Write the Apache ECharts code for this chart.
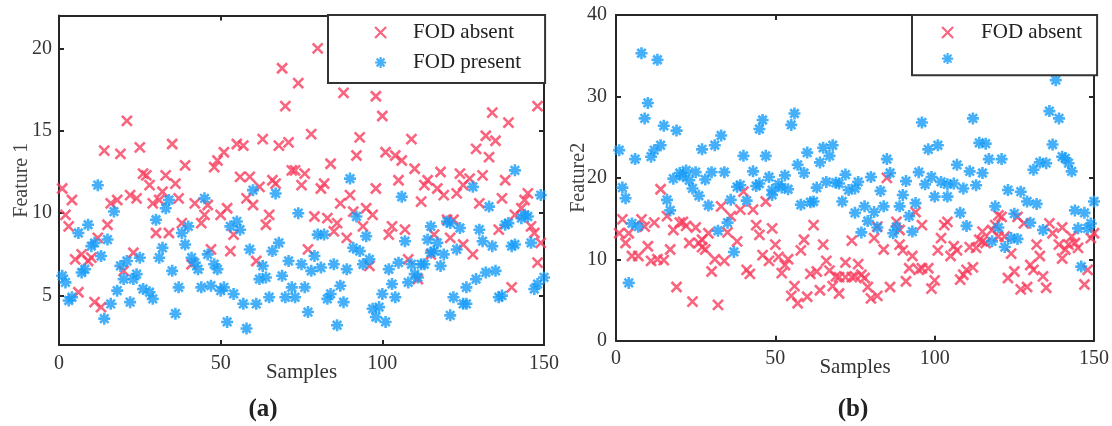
<!DOCTYPE html>
<html><head><meta charset="utf-8">
<script src="https://cdn.jsdelivr.net/npm/echarts@6/dist/echarts.min.js"></script>
<style>html,body{margin:0;padding:0;background:#fff}#c{width:1112px;height:426px}</style>
</head><body><div id="c"></div>
<script>
// ---- data: [sample, value] ----
const sampleTicks = [0, 50, 100, 150];
const feature1Ticks = [5, 10, 15, 20];
const feature2Ticks = [0, 10, 20, 30, 40];

const absentA = [[1,11.5],[2,9.9],[3,9.2],[4,10.8],[5,7.2],[6,5.2],[7,7.5],[9,7.1],[10,7.3],[11,4.6],[12,8.5],[13,4.3],[14,13.8],[15,9.3],[16,10.6],[18,10.8],[19,13.6],[20,6.5],[21,15.6],[22,11.1],[23,7.6],[24,10.9],[25,14.0],[26,12.4],[27,12.3],[28,11.7],[29,10.6],[30,8.8],[31,10.8],[32,11.3],[33,12.3],[34,8.8],[35,14.2],[36,11.8],[37,10.9],[38,9.4],[39,12.9],[41,6.9],[42,10.6],[44,9.4],[45,9.9],[46,10.5],[47,7.8],[48,12.8],[49,13.2],[50,9.9],[51,13.7],[52,10.3],[53,7.7],[54,8.7],[55,14.2],[56,12.2],[57,14.1],[58,10.9],[59,12.2],[60,10.5],[61,7.1],[62,11.6],[63,14.5],[64,9.3],[65,9.9],[66,12.0],[67,11.8],[68,14.1],[69,18.8],[70,16.5],[71,14.3],[72,12.6],[73,12.6],[74,17.9],[75,11.7],[76,12.4],[77,7.8],[78,14.8],[79,9.8],[80,20.0],[81,11.5],[82,11.8],[83,9.7],[84,13.0],[85,8.9],[86,9.4],[87,10.6],[88,17.3],[89,8.5],[90,11.1],[91,10.1],[92,13.5],[93,14.6],[94,9.2],[95,10.3],[96,6.8],[97,9.9],[98,11.5],[98,17.1],[100,15.9],[101,13.7],[102,8.7],[103,9.2],[104,13.5],[105,12.0],[106,13.2],[107,9.0],[108,7.2],[109,14.5],[110,12.7],[111,6.0],[112,10.7],[113,11.7],[114,12.0],[115,7.5],[116,8.7],[117,11.5],[118,12.5],[119,11.1],[120,9.6],[121,8.5],[122,9.6],[123,11.2],[124,12.4],[125,11.7],[125,8.1],[127,12.1],[128,7.5],[129,13.9],[130,10.6],[131,12.3],[132,14.7],[133,13.4],[134,16.1],[135,14.4],[136,9.0],[137,10.9],[138,12.0],[139,15.5],[140,5.5],[141,9.9],[143,10.3],[144,10.8],[145,11.2],[146,9.2],[147,8.8],[148,7.0],[148,16.5],[149,8.2]];

const presentA = [[1,6.2],[2,5.8],[3,4.7],[4,4.9],[6,8.8],[7,6.4],[8,6.6],[9,9.3],[10,8.0],[11,8.2],[12,11.7],[13,7.4],[14,3.6],[15,8.4],[16,4.5],[17,10.1],[18,5.3],[19,6.8],[20,6.0],[21,7.1],[22,4.6],[23,6.0],[24,6.3],[25,7.3],[26,5.4],[28,5.2],[29,4.8],[30,9.6],[31,7.3],[32,7.9],[33,10.3],[34,10.8],[35,6.5],[36,3.9],[37,5.5],[38,8.8],[39,8.1],[40,9.2],[41,7.3],[42,7.0],[43,6.6],[44,5.5],[45,10.9],[46,7.5],[47,5.6],[48,6.9],[49,6.6],[50,5.3],[51,5.5],[52,3.4],[53,9.2],[54,5.1],[55,9.5],[56,9.0],[57,4.5],[58,3.0],[59,7.8],[60,11.4],[61,4.5],[62,6.0],[63,6.8],[64,6.1],[65,4.9],[66,7.7],[67,11.2],[68,8.2],[69,6.2],[70,4.9],[71,7.1],[72,5.5],[73,4.9],[74,10.0],[75,6.9],[76,5.5],[77,4.0],[78,6.5],[79,7.4],[80,8.7],[81,6.7],[82,8.7],[83,4.8],[84,5.1],[85,6.9],[86,3.2],[87,5.6],[88,4.6],[89,6.6],[90,12.1],[91,7.9],[92,9.8],[93,7.7],[94,6.9],[95,8.6],[96,7.2],[97,4.2],[98,3.7],[99,4.3],[100,5.1],[101,3.4],[102,6.6],[103,5.7],[104,4.9],[105,7.0],[106,11.0],[107,8.3],[108,5.8],[109,6.9],[110,6.3],[111,6.1],[112,6.9],[113,6.9],[114,8.4],[115,9.2],[115,7.6],[116,7.7],[117,8.2],[118,6.8],[119,7.5],[120,9.5],[121,9.4],[121,3.8],[122,4.9],[123,7.8],[124,9.1],[125,4.5],[126,5.5],[126,4.5],[128,11.6],[129,6.0],[130,9.0],[131,8.3],[132,6.4],[133,10.4],[134,8.0],[135,6.5],[136,4.9],[137,5.0],[138,9.3],[139,9.4],[140,8.0],[141,12.6],[141,8.1],[143,9.7],[144,9.9],[145,9.8],[146,8.2],[147,5.4],[148,5.7],[149,11.1],[150,6.1]];

const absentB = [[1,13.2],[2,14.9],[3,12.0],[4,13.2],[5,10.4],[7,10.4],[8,14.9],[9,14.0],[10,11.6],[11,9.8],[12,14.5],[13,10.0],[14,18.6],[15,9.9],[16,15.3],[17,11.2],[18,13.6],[19,6.6],[20,14.5],[21,14.6],[22,14.1],[23,12.0],[24,4.8],[25,13.9],[26,12.0],[27,12.4],[27,11.5],[28,11.2],[29,13.2],[30,8.5],[31,10.0],[32,4.4],[33,16.5],[34,9.8],[35,13.3],[36,15.3],[38,12.2],[39,16.1],[40,18.3],[41,8.7],[42,8.2],[43,16.1],[44,14.2],[45,13.0],[46,10.5],[47,17.1],[48,9.8],[49,13.8],[50,11.8],[51,10.3],[52,8.3],[53,9.3],[54,10.0],[55,5.5],[56,6.7],[57,4.6],[58,11.1],[59,12.4],[60,5.4],[61,8.2],[62,14.2],[63,8.5],[64,6.2],[65,11.8],[66,9.8],[67,8.6],[68,6.7],[69,7.9],[70,7.8],[70,5.8],[72,7.8],[72,9.6],[74,7.8],[74,12.3],[75,7.9],[76,9.4],[77,8.1],[78,7.7],[79,6.6],[80,5.2],[81,12.6],[82,14.0],[82,5.5],[84,11.2],[85,20.0],[86,6.6],[88,14.6],[89,13.6],[89,11.8],[90,11.1],[91,7.3],[92,8.9],[93,10.4],[94,15.8],[95,8.7],[96,14.2],[96,8.9],[98,8.9],[99,6.4],[100,7.4],[101,11.1],[102,12.6],[103,14.2],[104,14.6],[105,10.4],[106,11.6],[107,11.1],[108,7.5],[109,8.1],[110,8.7],[111,11.5],[112,9.0],[113,11.4],[114,12.4],[115,13.4],[115,12.2],[116,12.0],[118,13.6],[119,14.2],[120,15.4],[120,12.8],[121,15.2],[122,12.8],[123,7.7],[124,10.7],[125,8.5],[126,15.2],[127,6.3],[128,14.4],[129,6.6],[130,9.3],[131,8.7],[132,11.8],[133,10.4],[134,7.9],[135,6.5],[136,14.4],[137,13.2],[139,11.8],[140,13.9],[140,10.1],[141,11.2],[142,11.8],[143,12.8],[144,12.0],[145,11.4],[147,6.9],[148,8.7],[149,12.6],[150,13.2]];

const presentB = [[1,23.4],[2,18.8],[3,17.5],[4,7.1],[5,14.4],[6,22.3],[7,14.0],[8,35.3],[9,27.3],[10,29.2],[11,22.6],[12,23.4],[13,34.5],[14,24.0],[15,26.4],[16,17.3],[17,16.0],[18,19.9],[19,25.8],[20,20.6],[21,20.2],[22,20.9],[23,19.7],[24,18.7],[25,20.7],[26,17.8],[27,23.5],[28,19.8],[29,16.6],[30,20.7],[31,24.0],[32,13.5],[33,25.2],[34,20.7],[35,14.5],[36,17.3],[37,10.9],[38,18.9],[39,19.1],[40,22.7],[41,17.2],[43,20.8],[44,19.0],[45,19.3],[45,26.0],[46,27.1],[47,22.7],[48,20.1],[49,18.5],[49,17.9],[51,19.2],[52,18.8],[53,20.3],[54,18.6],[55,26.5],[56,27.9],[57,21.6],[58,16.7],[59,20.6],[60,23.1],[61,17.0],[62,17.1],[63,18.8],[64,21.9],[65,23.7],[66,19.5],[67,22.7],[68,24.0],[69,19.4],[70,19.3],[71,17.1],[72,20.4],[73,18.5],[75,18.7],[75,15.7],[76,19.5],[77,13.3],[78,16.5],[79,14.7],[80,20.1],[81,15.8],[82,13.9],[83,18.4],[84,16.5],[85,22.3],[86,20.6],[87,13.2],[88,14.0],[89,16.5],[90,17.9],[91,19.6],[92,15.3],[93,13.4],[94,16.9],[95,20.7],[96,26.8],[97,19.2],[98,23.5],[99,20.1],[100,17.7],[101,24.0],[102,19.5],[104,17.7],[104,19.2],[106,19.3],[107,21.6],[108,15.7],[109,18.7],[110,14.1],[111,20.8],[112,27.3],[113,19.1],[114,24.3],[115,20.6],[116,24.2],[117,22.3],[118,12.2],[119,16.5],[120,13.9],[121,22.3],[122,11.5],[123,18.5],[124,12.6],[125,15.6],[126,12.5],[127,18.3],[129,17.1],[130,14.5],[131,21.0],[132,16.8],[133,21.9],[134,13.6],[135,21.8],[136,28.2],[137,24.1],[138,32.0],[139,27.3],[140,22.6],[141,22.4],[142,21.8],[143,20.8],[144,16.0],[145,13.8],[146,9.1],[147,15.7],[148,13.8],[149,14.4],[150,17.1]];

// ---- style ----
const RED = '#f83d5e';
const BLUE = '#169cf8';
const AX = '#262626';
const FONT = 'Liberation Serif';
const crossPath = 'path://M0,0L10,10M10,0L0,10';
const starPath = 'path://M5,0L5,10M0,5L10,5M1.46,1.46L8.54,8.54M8.54,1.46L1.46,8.54';
const MARK_W = 2.6;

const chart = echarts.init(document.getElementById('c'), null, {renderer: 'canvas'});

function xAxes(gi, nameGap, labelMargin) {
  const base = {
    gridIndex: gi, type: 'value',
    min: sampleTicks[0], max: sampleTicks[sampleTicks.length - 1],
    interval: sampleTicks[1] - sampleTicks[0],
    axisLine: {show: true, onZero: false, lineStyle: {color: AX, width: 2}},
    axisTick: {show: true, inside: true, length: 5, lineStyle: {color: AX, width: 2}},
    splitLine: {show: false}
  };
  return [
    Object.assign({}, base, {
      position: 'bottom',
      axisLabel: {margin: labelMargin, fontFamily: FONT, fontSize: 20, color: '#333'},
      name: 'Samples', nameLocation: 'middle', nameGap: nameGap, nameMoveOverlap: false,
      nameTextStyle: {fontFamily: FONT, fontSize: 21, color: '#333'}
    }),
    Object.assign({}, base, {position: 'top', axisLabel: {show: false}})
  ];
}

function yAxes(gi, ticks, lo, hi, name, nameGap, labelMargin) {
  const base = {
    gridIndex: gi, type: 'value', min: lo, max: hi,
    axisLine: {show: true, onZero: false, lineStyle: {color: AX, width: 2}},
    axisTick: {show: true, inside: true, length: 5, lineStyle: {color: AX, width: 2}},
    splitLine: {show: false}
  };
  const step = ticks[1] - ticks[0];
  if (lo % step === 0) base.interval = step; else base.splitNumber = (hi - lo) / step;
  return [
    Object.assign({}, base, {
      position: 'left',
      axisLabel: {
        margin: labelMargin, fontFamily: FONT, fontSize: 20, color: '#333',
        showMinLabel: lo % step === 0, showMaxLabel: hi % step === 0,
        formatter: v => (ticks.indexOf(Math.round(v * 1000) / 1000) >= 0 ? String(v) : '')
      },
      name: name, nameLocation: 'middle', nameGap: nameGap, nameRotate: 90, nameMoveOverlap: false,
      nameTextStyle: {fontFamily: FONT, fontSize: 20, color: '#444'}
    }),
    Object.assign({}, base, {position: 'right', axisLabel: {show: false}})
  ];
}

const legendText = {fontFamily: FONT, fontSize: 21, color: '#222', lineHeight: 20};

const option = {
  animation: false,
  backgroundColor: '#fff',
  grid: [
    {left: 59, top: 15.5, width: 485, height: 329.5},
    {left: 616, top: 15, width: 478, height: 325.7}
  ],
  xAxis: [].concat(xAxes(0, 17, 9), xAxes(1, 16, 8)),
  yAxis: [].concat(
    yAxes(0, feature1Ticks, 2, 22, 'Feature 1', 27, 7),
    yAxes(1, feature2Ticks, 0, 40, 'Feature2', 27, 9)
  ),
  legend: [
    {
      left: 328, top: 15, orient: 'vertical',
      padding: [7, 22, 10, 46], itemGap: 9, itemWidth: 11, itemHeight: 11,
      borderColor: '#333', borderWidth: 2, backgroundColor: '#fff',
      textStyle: Object.assign({width: 110, padding: [0, 0, 0, 22]}, legendText),
      data: [
        {name: 'FOD absent', icon: crossPath, itemStyle: {color: RED, borderColor: RED, borderWidth: 2.2}},
        {name: 'FOD present', icon: starPath, itemStyle: {color: BLUE, borderColor: BLUE, borderWidth: 2.2}}
      ]
    },
    {
      left: 912, top: 15, orient: 'vertical',
      padding: [7, 6, 10, 29], itemGap: 9, itemWidth: 11, itemHeight: 11,
      borderColor: '#333', borderWidth: 2, backgroundColor: '#fff',
      textStyle: Object.assign({width: 110, padding: [0, 0, 0, 23]}, legendText),
      formatter: n => (n === 'FOD absent' ? n : ''),
      data: [
        {name: 'FOD absent', icon: crossPath, itemStyle: {color: RED, borderColor: RED, borderWidth: 2.2}},
        {name: 'FOD present', icon: starPath, itemStyle: {color: BLUE, borderColor: BLUE, borderWidth: 2.2}}
      ]
    }
  ],
  graphic: [
    {type: 'text', x: 263, y: 410, style: {text: '(a)', fontFamily: FONT, fontSize: 25, fontWeight: 'bold', fill: '#222', align: 'center', verticalAlign: 'middle'}},
    {type: 'text', x: 853, y: 410, style: {text: '(b)', fontFamily: FONT, fontSize: 25, fontWeight: 'bold', fill: '#222', align: 'center', verticalAlign: 'middle'}}
  ],
  series: [
    {type: 'scatter', name: 'FOD absent', xAxisIndex: 0, yAxisIndex: 0, data: absentA, symbol: crossPath, symbolSize: 10,
     itemStyle: {color: RED, borderColor: RED, borderWidth: MARK_W}},
    {type: 'scatter', name: 'FOD present', xAxisIndex: 0, yAxisIndex: 0, data: presentA, symbol: starPath, symbolSize: 12,
     itemStyle: {color: BLUE, borderColor: BLUE, borderWidth: MARK_W}},
    {type: 'scatter', name: 'FOD absent', xAxisIndex: 2, yAxisIndex: 2, data: absentB, symbol: crossPath, symbolSize: 10,
     itemStyle: {color: RED, borderColor: RED, borderWidth: MARK_W}},
    {type: 'scatter', name: 'FOD present', xAxisIndex: 2, yAxisIndex: 2, data: presentB, symbol: starPath, symbolSize: 12,
     itemStyle: {color: BLUE, borderColor: BLUE, borderWidth: MARK_W}}
  ]
};
chart.setOption(option);
</script>
</body></html>
